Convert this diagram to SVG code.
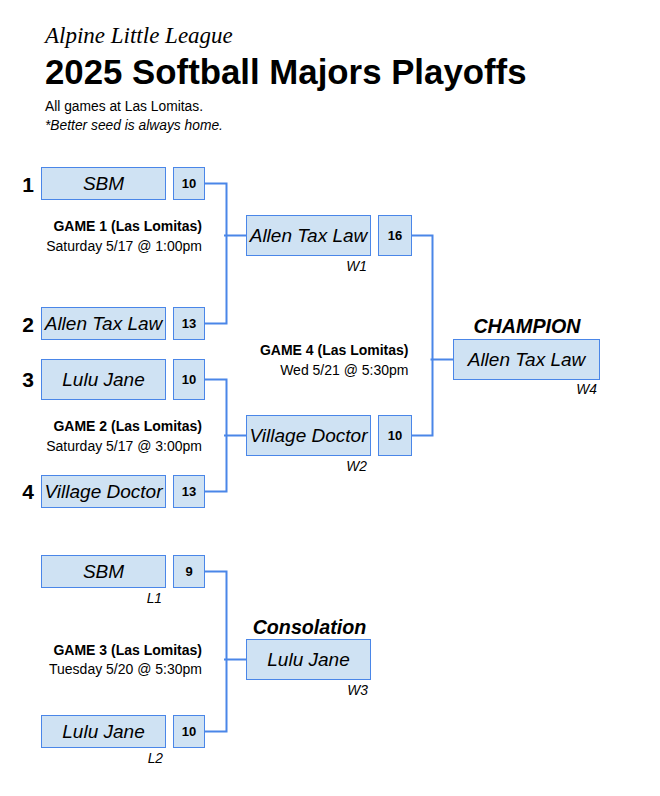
<svg xmlns="http://www.w3.org/2000/svg" width="660" height="796" viewBox="0 0 660 796">
<style>
.bx{fill:#cfe2f3;stroke:#4a86e8;stroke-width:1}
.tm{font-family:"Liberation Sans",Arial,sans-serif;font-style:italic;font-size:19px;fill:#000;text-anchor:middle}
.sc{font-family:"Liberation Sans",Arial,sans-serif;font-weight:bold;font-size:13px;fill:#000;text-anchor:middle}
.sd{font-family:"Liberation Sans",Arial,sans-serif;font-weight:bold;font-size:21px;fill:#000;text-anchor:end}
.lb{font-family:"Liberation Sans",Arial,sans-serif;font-style:italic;font-size:13.8px;fill:#000;text-anchor:end}
.gh{font-family:"Liberation Sans",Arial,sans-serif;font-weight:bold;font-size:14px;fill:#000;text-anchor:end}
.gt{font-family:"Liberation Sans",Arial,sans-serif;font-size:14px;fill:#000;text-anchor:end}
.hd{font-family:"Liberation Sans",Arial,sans-serif;font-weight:bold;font-style:italic;font-size:19.7px;fill:#000;text-anchor:middle}
.cn{fill:none;stroke:#4a86e8;stroke-width:2}
</style>
<rect width="660" height="796" fill="#fff"/>
<g id="header">
<text x="45" y="43" font-family="Liberation Serif,'Times New Roman',serif" font-style="italic" font-size="23">Alpine Little League</text>
<text x="45" y="84" font-family="Liberation Sans,Arial,sans-serif" font-weight="bold" font-size="34.8">2025 Softball Majors Playoffs</text>
<text x="45" y="111" font-family="Liberation Sans,Arial,sans-serif" font-size="13.8">All games at Las Lomitas.</text>
<text x="45" y="129.5" font-family="Liberation Sans,Arial,sans-serif" font-style="italic" font-size="13.8">*Better seed is always home.</text>
</g>
<g id="connectors">
<path class="cn" d="M204.5,183.5 H226.5 V323.5 H204.5 M224,235.5 H246.5"/>
<path class="cn" d="M204.5,379.5 H226.5 V491.5 H204.5 M224,435.5 H246.5"/>
<path class="cn" d="M411.5,235.5 H432.5 V435.5 H411.5 M430.5,359.5 H453.5"/>
<path class="cn" d="M204.5,571.5 H226.5 V731.5 H204.5 M224,659.5 H246.5"/>
</g>
<g id="seed1">
<text class="sd" x="34" y="191.5">1</text>
<rect class="bx" x="41.5" y="167.5" width="124" height="32"/>
<text class="tm" x="103.5" y="190">SBM</text>
<rect class="bx" x="173.5" y="167.5" width="31" height="32"/>
<text class="sc" x="189" y="188">10</text>
</g>
<g id="seed2">
<text class="sd" x="34" y="331.5">2</text>
<rect class="bx" x="41.5" y="307.5" width="124" height="32"/>
<text class="tm" x="103.5" y="330">Allen Tax Law</text>
<rect class="bx" x="173.5" y="307.5" width="31" height="32"/>
<text class="sc" x="189" y="328">13</text>
</g>
<g id="seed3">
<text class="sd" x="34" y="386.5">3</text>
<rect class="bx" x="41.5" y="359.5" width="124" height="40"/>
<text class="tm" x="103.5" y="386">Lulu Jane</text>
<rect class="bx" x="173.5" y="359.5" width="31" height="40"/>
<text class="sc" x="189" y="384">10</text>
</g>
<g id="seed4">
<text class="sd" x="34" y="499">4</text>
<rect class="bx" x="41.5" y="475.5" width="124" height="32"/>
<text class="tm" x="103.5" y="498">Village Doctor</text>
<rect class="bx" x="173.5" y="475.5" width="31" height="32"/>
<text class="sc" x="189" y="496">13</text>
</g>
<g id="game1">
<text class="gh" x="202" y="231">GAME 1 (Las Lomitas)</text>
<text class="gt" x="202" y="250.5">Saturday 5/17 @ 1:00pm</text>
</g>
<g id="game2">
<text class="gh" x="202" y="431">GAME 2 (Las Lomitas)</text>
<text class="gt" x="202" y="450.5">Saturday 5/17 @ 3:00pm</text>
</g>
<g id="w1">
<rect class="bx" x="246.5" y="215.5" width="124" height="40"/>
<text class="tm" x="308.5" y="242">Allen Tax Law</text>
<rect class="bx" x="378.5" y="215.5" width="33" height="40"/>
<text class="sc" x="395" y="240">16</text>
<text class="lb" x="367" y="271">W1</text>
</g>
<g id="w2">
<rect class="bx" x="246.5" y="415.5" width="124" height="40"/>
<text class="tm" x="308.5" y="442">Village Doctor</text>
<rect class="bx" x="378.5" y="415.5" width="33" height="40"/>
<text class="sc" x="395" y="440">10</text>
<text class="lb" x="367" y="470.5">W2</text>
</g>
<g id="game4">
<text class="gh" x="408.5" y="355">GAME 4 (Las Lomitas)</text>
<text class="gt" x="408.5" y="374.5">Wed 5/21 @ 5:30pm</text>
</g>
<g id="champion">
<text class="hd" x="527" y="333">CHAMPION</text>
<rect class="bx" x="453.5" y="339.5" width="146" height="40"/>
<text class="tm" x="526.5" y="366">Allen Tax Law</text>
<text class="lb" x="597" y="393.5">W4</text>
</g>
<g id="l1">
<rect class="bx" x="41.5" y="555.5" width="124" height="32"/>
<text class="tm" x="103.5" y="578">SBM</text>
<rect class="bx" x="173.5" y="555.5" width="31" height="32"/>
<text class="sc" x="189" y="576">9</text>
<text class="lb" x="162" y="603">L1</text>
</g>
<g id="l2">
<rect class="bx" x="41.5" y="715.5" width="124" height="32"/>
<text class="tm" x="103.5" y="738">Lulu Jane</text>
<rect class="bx" x="173.5" y="715.5" width="31" height="32"/>
<text class="sc" x="189" y="736">10</text>
<text class="lb" x="163" y="763">L2</text>
</g>
<g id="game3">
<text class="gh" x="202" y="654.5">GAME 3 (Las Lomitas)</text>
<text class="gt" x="202" y="673.5">Tuesday 5/20 @ 5:30pm</text>
</g>
<g id="w3">
<text class="hd" x="309.5" y="633.5">Consolation</text>
<rect class="bx" x="246.5" y="639.5" width="124" height="40"/>
<text class="tm" x="308.5" y="666">Lulu Jane</text>
<text class="lb" x="368" y="694.5">W3</text>
</g>
</svg>
